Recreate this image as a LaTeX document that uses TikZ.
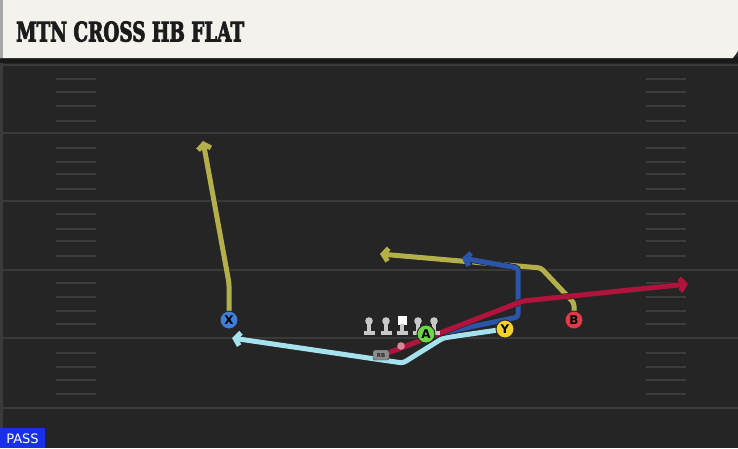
\documentclass[tikz,border=0pt]{standalone}
\usepackage{fontspec}
\setsansfont{DejaVu Sans}
\font\titlefnt="DejaVu Serif/B:embolden=3.5" at 28pt
\usetikzlibrary{arrows.meta}
\definecolor{field}{HTML}{252525}
\definecolor{yardline}{HTML}{3A3A3A}
\definecolor{hashc}{HTML}{3C3C3C}
\definecolor{banner}{HTML}{F4F2EC}
\definecolor{ryellow}{HTML}{B3AF4A}
\definecolor{rred}{HTML}{B0143C}
\definecolor{rblue}{HTML}{2A55A8}
\definecolor{rcyan}{HTML}{A6E2EE}
\definecolor{pX}{HTML}{3F7FD8}
\definecolor{pA}{HTML}{6CD645}
\definecolor{pY}{HTML}{F4D12B}
\definecolor{pB}{HTML}{E23A48}
\definecolor{olgray}{HTML}{C8C8C8}
\definecolor{passblue}{HTML}{1A30E8}
\definecolor{titlec}{HTML}{1C1C1C}
\begin{document}
\begin{tikzpicture}[x=1pt,y=-1pt,
  route/.style={line width=5pt, rounded corners=3pt, line cap=round, line join=round,
    -{Straight Barb[length=5pt,width=13pt]},
    preaction={draw=black!85, line width=6.4pt}},
  player/.style={circle, minimum size=18pt, inner sep=0pt, draw=black!85, line width=0.9pt,
    font=\sffamily\bfseries\fontsize{12}{12}\selectfont, text=black},
  yline/.style={draw=yardline, line width=2pt},
  hline/.style={draw=hashc, line width=1.5pt},
  olman/.style={fill=olgray},
]
\useasboundingbox (0,0) rectangle (738,448);
% field
\fill[field] (0,0) rectangle (738,448);
\fill[yardline] (0,60) rectangle (2.5,448);
% yard lines
\foreach \y in {65,133,201,270,338,408} \draw[yline] (2.5,\y) -- (738,\y);
% hash marks
\foreach \y in {79,92,106,121,148,162,174,189,214,229,241,256,283,297,311,324,353,367,380,394} {
  \draw[hline] (56,\y) -- (96,\y);
  \draw[hline] (646,\y) -- (686,\y);
}
% banner
\fill[black!90] (0,57) rectangle (738,63);
\fill[banner] (0,0) -- (738,0) -- (738,51) -- (733,58) -- (0,58) -- cycle;
\fill[black!35] (0,0) rectangle (3,58);
\node[anchor=south west, inner sep=0pt] (title) at (16,42)
  {\resizebox{228pt}{20pt}{\color{titlec}\titlefnt MTN CROSS HB FLAT}};
% PASS
\fill[passblue] (0,428) rectangle (45,448);
\node[text=white, font=\sffamily\fontsize{13}{13}\selectfont, inner sep=0pt] (pass) at (22.5,438.5) {PASS};

% players (coordinates only, drawn later)
\coordinate (Xc) at (229,320);
\coordinate (Ac) at (426,334);
\coordinate (Yc) at (505,329);
\coordinate (Bc) at (574,320);
\coordinate (RBc) at (381,355);

% route waypoints
\coordinate (x1) at (229,283);
\coordinate (xend) at (203,141);
\coordinate (b1) at (574,303);
\coordinate (b2) at (541,268);
\coordinate (bend) at (380,254);
\coordinate (bl0) at (437,334);
\coordinate (bl1) at (518,317);
\coordinate (bl2) at (518,268);
\coordinate (blend) at (462,258);
\coordinate (r0) at (388,353);
\coordinate (r1) at (523,301);
\coordinate (rend) at (688,284);
\coordinate (c1) at (443,338);
\coordinate (c2) at (403,363);
\coordinate (c3) at (389,361);
\coordinate (cend) at (232,338);

% routes
\draw[route, draw=rcyan] (Yc) -- (c1) -- (c2) -- (c3) -- (cend);
\draw[route, draw=ryellow] (Xc) -- (x1) -- (xend);
\draw[route, draw=ryellow] (Bc) -- (b1) -- (b2) -- (bend);
\draw[route, draw=rblue] (bl0) -- (bl1) -- (bl2) -- (blend);
\draw[route, draw=rred] (r0) -- (r1) -- (rend);

% offensive line
\foreach \x in {369,386,418,434} {
  \fill[olman] (\x,321) circle (3.8pt);
  \fill[olman] (\x-1.8,323) rectangle (\x+1.8,331);
  \fill[olman] (\x-5.5,330.5) rectangle (\x+5.5,335);
}
\fill[white] (397.5,315.5) rectangle (406.5,324.5);
\fill[olman] (400.2,324) rectangle (403.8,331);
\fill[olman] (396.5,330.5) rectangle (407.5,335);

% QB dot and RB
\fill[fill={rgb,255:red,214;green,138;blue,152}] (401,346) circle (3.8pt);
\node[draw=black!80, fill=black!45, rounded corners=2pt, minimum width=16pt, minimum height=10pt,
  inner sep=0pt, font=\sffamily\bfseries\fontsize{5.5}{5.5}\selectfont, text=black!85] (RB) at (RBc) {RB};

% players
\node[player, fill=pX] (X) at (Xc) {X};
\node[player, fill=pA] (A) at (Ac) {A};
\node[player, fill=pY] (Y) at (Yc) {Y};
\node[player, fill=pB] (B) at (Bc) {B};
\end{tikzpicture}
\end{document}
